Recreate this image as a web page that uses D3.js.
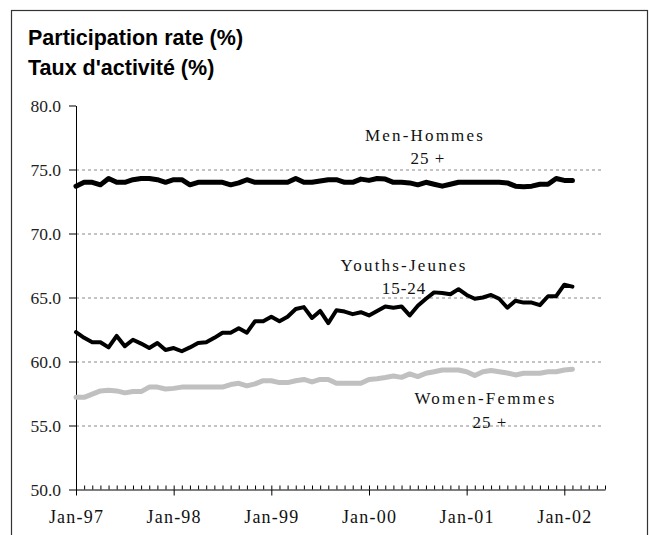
<!DOCTYPE html>
<html>
<head>
<meta charset="utf-8">
<script src="https://cdn.jsdelivr.net/npm/d3@7"></script>
<style>
	body { margin: 0; background: #fff; }
	svg { display: block; }
</style>
</head>
<body>
<svg width="649" height="535"></svg>
<script>
// monthly series, Jan-97 .. Feb-02
let yearLabels = ['Jan-97', 'Jan-98', 'Jan-99', 'Jan-00', 'Jan-01', 'Jan-02'];
let monthCount = 66; // axis runs Jan-97 .. Jun-02

let men = [73.7, 74.0, 74.0, 73.8, 74.3, 74.0, 74.0, 74.2, 74.3, 74.3,
	74.2, 74.0, 74.2, 74.2, 73.8, 74.0, 74.0, 74.0, 74.0, 73.8,
	73.95, 74.2, 74.0, 74.0, 74.0, 74.0, 74.0, 74.3, 74.0, 74.0,
	74.1, 74.2, 74.2, 74.0, 74.0, 74.25, 74.15, 74.3, 74.25, 74.0,
	74.0, 73.95, 73.8, 74.0, 73.85, 73.7, 73.85, 74.0, 74.0, 74.0,
	74.0, 74.0, 74.0, 73.95, 73.7, 73.65, 73.7, 73.85, 73.85, 74.3,
	74.15, 74.15];

let youths = [62.3, 61.85, 61.5, 61.5, 61.1, 62.0, 61.2, 61.7, 61.4, 61.05,
	61.45, 60.9, 61.05, 60.8, 61.1, 61.45, 61.5, 61.85, 62.25, 62.25,
	62.6, 62.25, 63.15, 63.15, 63.5, 63.15, 63.5, 64.1, 64.25, 63.4,
	63.95, 63.0, 64.0, 63.9, 63.7, 63.85, 63.6, 63.95, 64.3, 64.2,
	64.3, 63.6, 64.35, 64.9, 65.4, 65.35, 65.25, 65.65, 65.2, 64.9,
	65.0, 65.2, 64.9, 64.2, 64.75, 64.6, 64.6, 64.4, 65.1, 65.1,
	66.0, 65.85];

let women = [57.2, 57.2, 57.45, 57.7, 57.75, 57.7, 57.55, 57.65, 57.65, 58.0,
	58.0, 57.85, 57.9, 58.0, 58.0, 58.0, 58.0, 58.0, 58.0, 58.2,
	58.3, 58.1, 58.25, 58.5, 58.5, 58.35, 58.35, 58.5, 58.6, 58.4,
	58.6, 58.6, 58.3, 58.3, 58.3, 58.3, 58.6, 58.65, 58.75, 58.87,
	58.76, 59.03, 58.82, 59.08, 59.2, 59.34, 59.34, 59.34, 59.2, 58.9,
	59.2, 59.3, 59.2, 59.1, 58.95, 59.08, 59.08, 59.08, 59.2, 59.2,
	59.34, 59.4];

let yTicks = [50, 55, 60, 65, 70, 75, 80];
let gridValues = [55, 60, 65, 70, 75];

let seriesLabels = [
	{ lines: ['Men-Hommes', '25 +'], data: men },
	{ lines: ['Youths-Jeunes', '15-24'], data: youths },
	{ lines: ['Women-Femmes', '25 +'], data: women }
];

const svg = d3.select('svg');

const x = d3.scaleLinear().domain([0, monthCount - 1]).range([76, 605]);
const y = d3.scaleLinear().domain([50, 80]).range([489.5, 105.5]);

// frame
svg.append('rect')
	.attr('x', 11.5).attr('y', 10.5)
	.attr('width', 636).attr('height', 540)
	.attr('fill', 'none').attr('stroke', '#333').attr('stroke-width', 1.2);

// title
const title = svg.append('g')
	.attr('font-family', '"Liberation Sans", Arial, sans-serif')
	.attr('font-weight', 'bold')
	.attr('font-size', 21.5)
	.attr('fill', '#000');
title.append('text').attr('x', 28).attr('y', 45).text('Participation rate (%)');
title.append('text').attr('x', 28).attr('y', 75).text("Taux d'activité (%)");

// gridlines
svg.append('g')
	.selectAll('line')
	.data(gridValues)
	.enter().append('line')
		.attr('x1', x(0)).attr('x2', 602)
		.attr('y1', d => y(d) + 0.5).attr('y2', d => y(d) + 0.5)
		.attr('stroke', '#888')
		.attr('stroke-width', 1)
		.attr('stroke-dasharray', '3,3');

// y axis
const yAxis = svg.append('g')
	.attr('transform', 'translate(' + x(0) + ',0)')
	.call(d3.axisLeft(y).tickValues(yTicks).tickFormat(d3.format('.1f')).tickSize(7).tickSizeOuter(0));
yAxis.selectAll('text')
	.attr('font-family', '"Liberation Serif", "Times New Roman", serif')
	.attr('font-size', 17.5)
	.attr('fill', '#222')
	.attr('x', -15)
	.attr('dy', '0.35em');

// x axis: monthly minor ticks pointing up, yearly major ticks pointing down
const months = d3.range(monthCount);
const years = months.filter(i => i % 12 === 0);

const xMinor = svg.append('g')
	.attr('transform', 'translate(0,' + y(50) + ')')
	.call(d3.axisBottom(x).tickValues(months).tickSize(-4).tickSizeOuter(0).tickFormat(''));

const xMajor = svg.append('g')
	.attr('transform', 'translate(0,' + y(50) + ')')
	.call(d3.axisBottom(x).tickValues(years).tickSize(6).tickSizeOuter(0).tickFormat((d, i) => yearLabels[i]));
xMajor.select('.domain').remove();
xMajor.selectAll('text')
	.attr('font-family', '"Liberation Serif", "Times New Roman", serif')
	.attr('font-size', 18)
	.attr('letter-spacing', 1.2)
	.attr('fill', '#111')
	.attr('y', 21)
	.attr('dy', '0.71em');

svg.selectAll('.domain').attr('stroke', '#000');

// series lines
const line = d3.line()
	.x((d, i) => x(i))
	.y(d => y(d));

svg.append('path')
	.datum(women)
	.attr('d', line)
	.attr('fill', 'none')
	.attr('stroke', '#c0c0c0')
	.attr('stroke-width', 5)
	.attr('stroke-linejoin', 'round')
	.attr('stroke-linecap', 'round');

svg.append('path')
	.datum(men)
	.attr('d', line)
	.attr('fill', 'none')
	.attr('stroke', '#000')
	.attr('stroke-width', 5)
	.attr('stroke-linejoin', 'round')
	.attr('stroke-linecap', 'round');

svg.append('path')
	.datum(youths)
	.attr('d', line)
	.attr('fill', 'none')
	.attr('stroke', '#000')
	.attr('stroke-width', 4)
	.attr('stroke-linejoin', 'round')
	.attr('stroke-linecap', 'round');

// series labels
let labelPos = [
	[[425, 140.7], [428, 164]],
	[[404, 270.7], [404, 294]],
	[[485.5, 404.3], [490, 428.3]]
];

seriesLabels.forEach(function(s, k) {
	s.lines.forEach(function(txt, j) {
		svg.append('text')
			.attr('x', labelPos[k][j][0])
			.attr('y', labelPos[k][j][1])
			.attr('text-anchor', 'middle')
			.attr('font-family', '"Liberation Serif", "Times New Roman", serif')
			.attr('font-size', 17)
			.attr('letter-spacing', j === 0 ? 2.2 : 1)
			.attr('fill', '#111')
			.text(txt);
	});
});
</script>
</body>
</html>
